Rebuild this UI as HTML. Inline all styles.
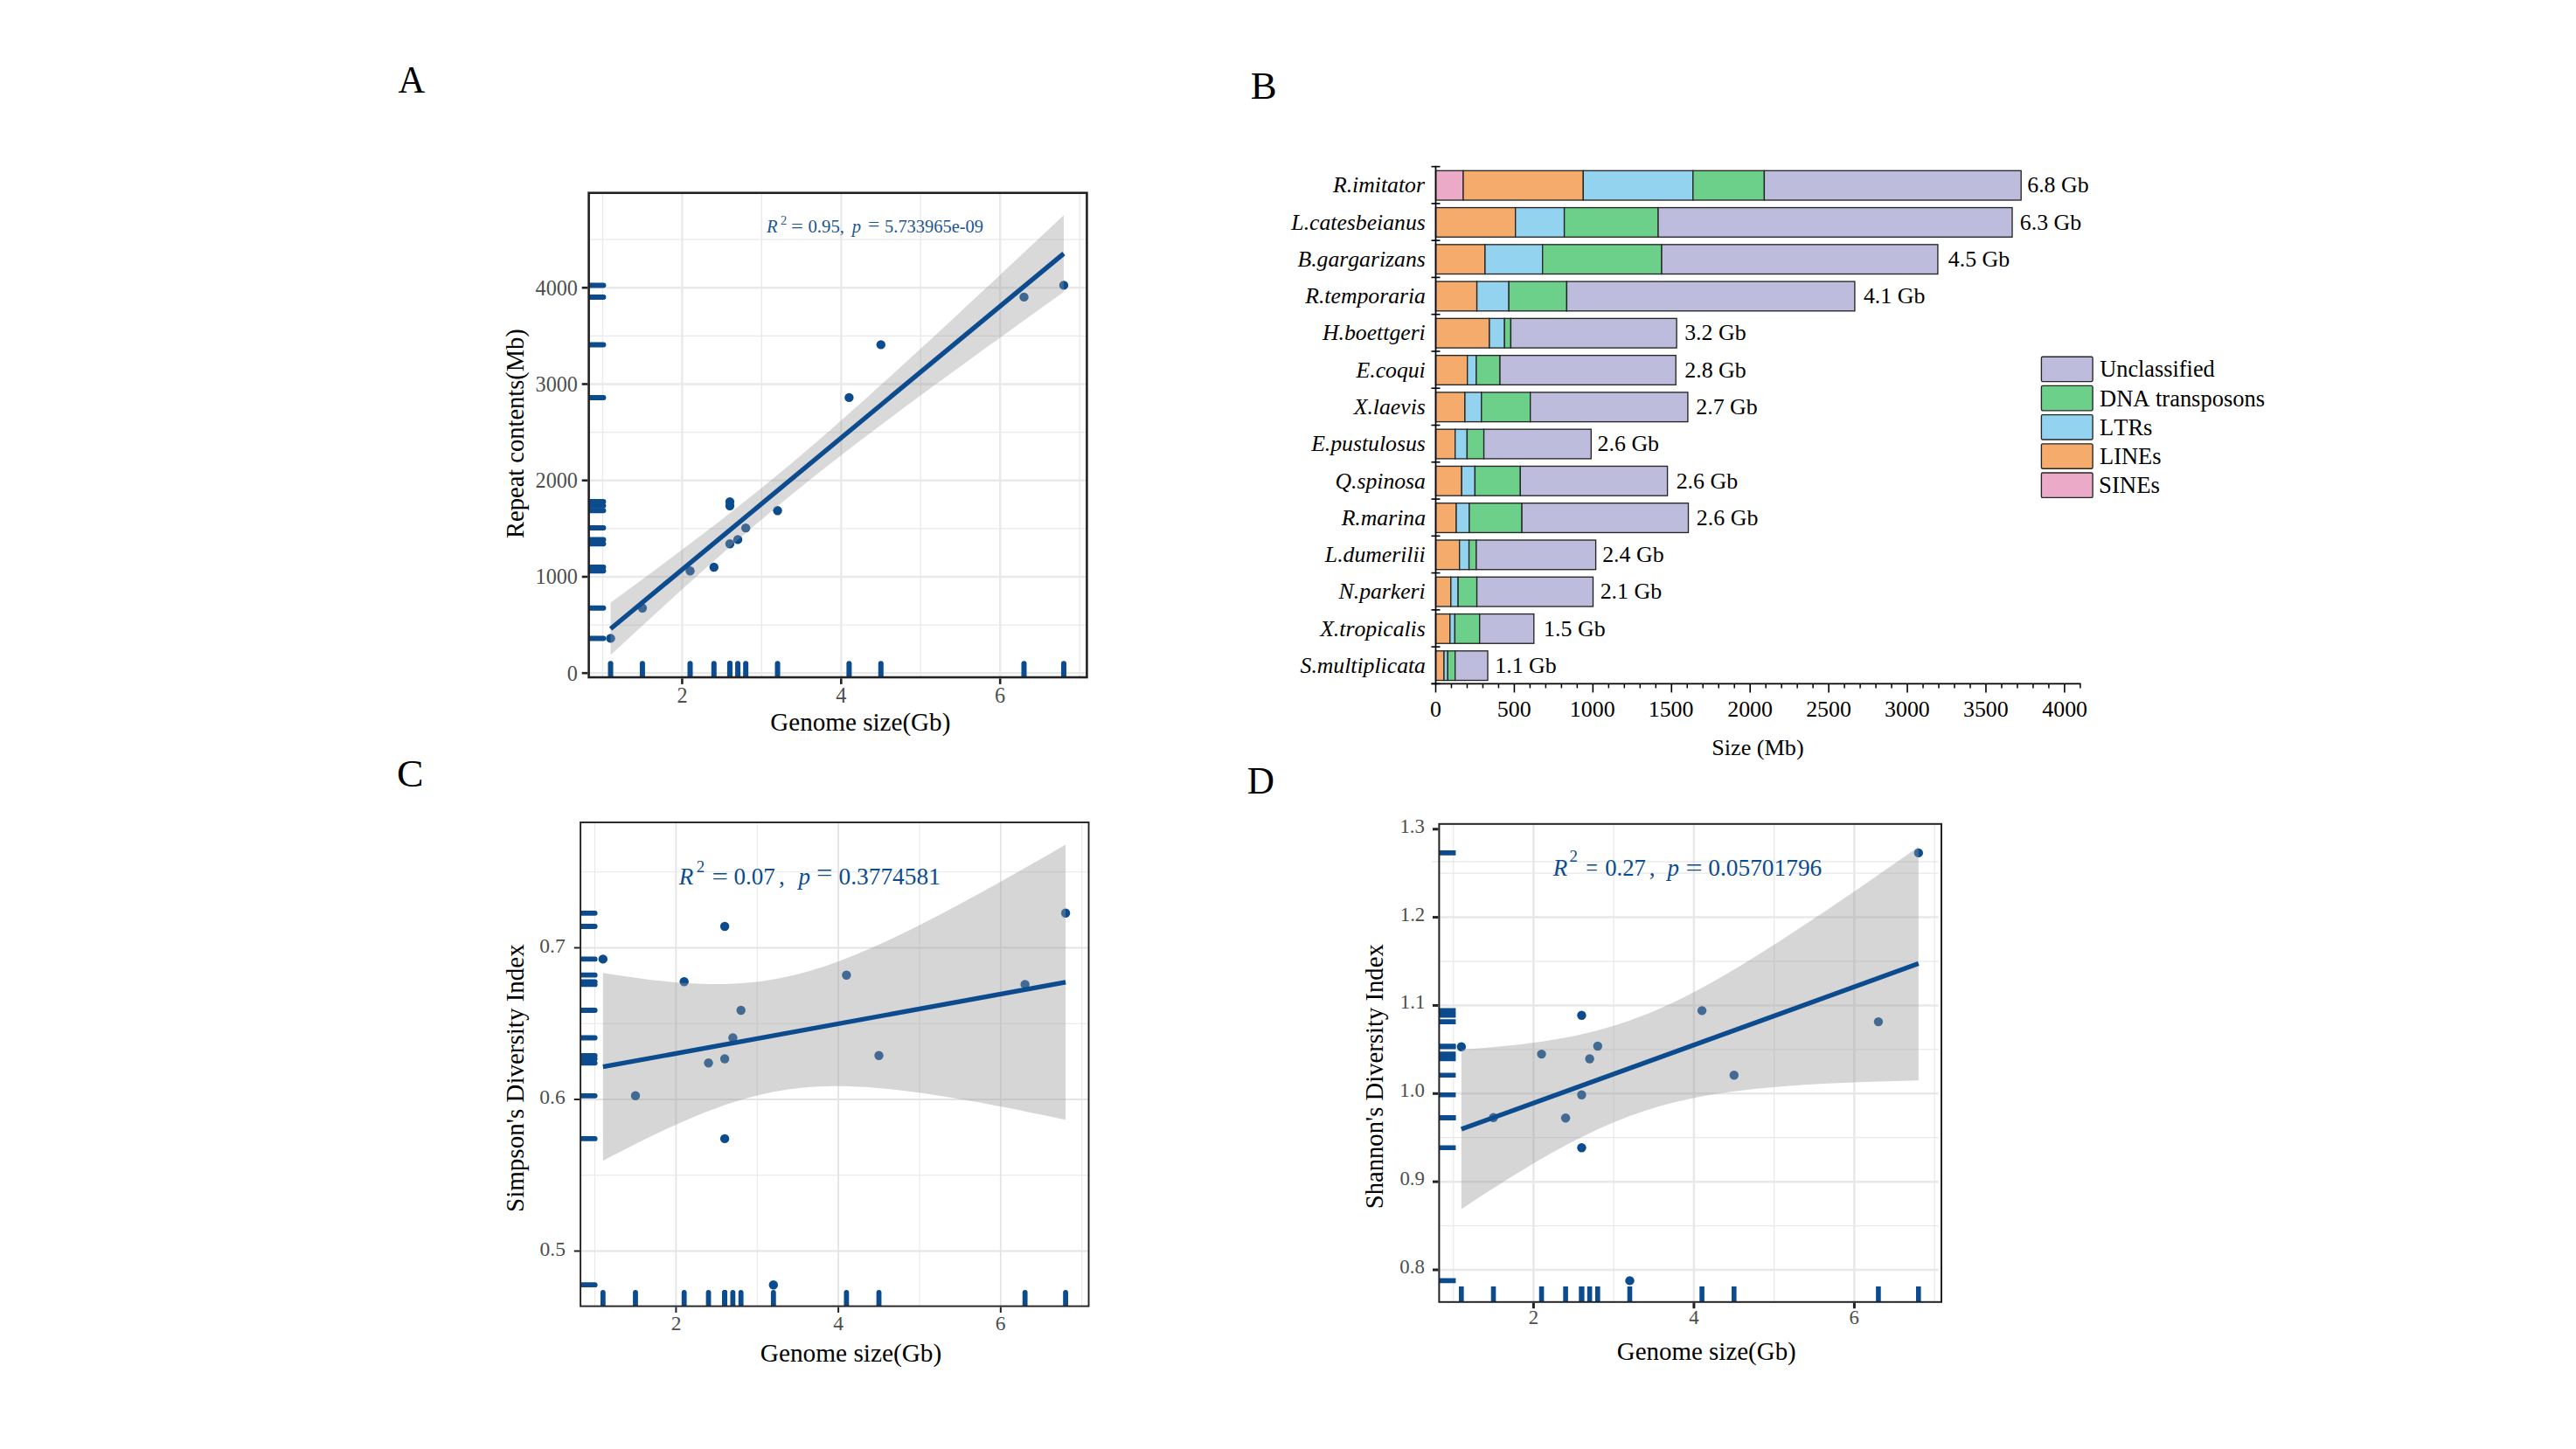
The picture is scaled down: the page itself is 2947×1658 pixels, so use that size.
<!DOCTYPE html>
<html lang="en">
<head>
<meta charset="utf-8">
<title>Figure</title>
<style>
html,body{margin:0;padding:0;background:#fff;}
body{width:2947px;height:1658px;overflow:hidden;font-family:"Liberation Serif","Times New Roman",serif;}
svg{display:block;}
text{white-space:pre;}
</style>
</head>
<body>
<svg width="2947" height="1658" viewBox="0 0 2947 1658" font-family="'Liberation Serif', 'Times New Roman', serif" style="font-kerning:none">
<g>
<clipPath id="pc1"><rect x="673.6" y="220.7" width="569.8" height="554.3"/></clipPath>
<line x1="673.6" y1="715.08" x2="1243.4" y2="715.08" stroke="#e9e9e9" stroke-width="1.3"/>
<line x1="673.6" y1="604.84" x2="1243.4" y2="604.84" stroke="#e9e9e9" stroke-width="1.3"/>
<line x1="673.6" y1="494.6" x2="1243.4" y2="494.6" stroke="#e9e9e9" stroke-width="1.3"/>
<line x1="673.6" y1="384.36" x2="1243.4" y2="384.36" stroke="#e9e9e9" stroke-width="1.3"/>
<line x1="673.6" y1="274.12" x2="1243.4" y2="274.12" stroke="#e9e9e9" stroke-width="1.3"/>
<line x1="689.45" y1="220.7" x2="689.45" y2="775" stroke="#e9e9e9" stroke-width="1.3"/>
<line x1="871.35" y1="220.7" x2="871.35" y2="775" stroke="#e9e9e9" stroke-width="1.3"/>
<line x1="1053.25" y1="220.7" x2="1053.25" y2="775" stroke="#e9e9e9" stroke-width="1.3"/>
<line x1="1235.15" y1="220.7" x2="1235.15" y2="775" stroke="#e9e9e9" stroke-width="1.3"/>
<line x1="673.6" y1="770.2" x2="1243.4" y2="770.2" stroke="#e9e9e9" stroke-width="2.4"/>
<line x1="673.6" y1="659.96" x2="1243.4" y2="659.96" stroke="#e9e9e9" stroke-width="2.4"/>
<line x1="673.6" y1="549.72" x2="1243.4" y2="549.72" stroke="#e9e9e9" stroke-width="2.4"/>
<line x1="673.6" y1="439.48" x2="1243.4" y2="439.48" stroke="#e9e9e9" stroke-width="2.4"/>
<line x1="673.6" y1="329.24" x2="1243.4" y2="329.24" stroke="#e9e9e9" stroke-width="2.4"/>
<line x1="780.4" y1="220.7" x2="780.4" y2="775" stroke="#e9e9e9" stroke-width="2.4"/>
<line x1="962.3" y1="220.7" x2="962.3" y2="775" stroke="#e9e9e9" stroke-width="2.4"/>
<line x1="1144.2" y1="220.7" x2="1144.2" y2="775" stroke="#e9e9e9" stroke-width="2.4"/>
<circle cx="698.54" cy="730.4" r="5.2" fill="#0b4b8e"/>
<circle cx="734.92" cy="695.7" r="5.2" fill="#0b4b8e"/>
<circle cx="789.5" cy="653.2" r="5.2" fill="#0b4b8e"/>
<circle cx="816.78" cy="649" r="5.2" fill="#0b4b8e"/>
<circle cx="834.97" cy="622.2" r="5.2" fill="#0b4b8e"/>
<circle cx="834.97" cy="578.7" r="5.2" fill="#0b4b8e"/>
<circle cx="834.97" cy="574.1" r="5.2" fill="#0b4b8e"/>
<circle cx="844.07" cy="617.4" r="5.2" fill="#0b4b8e"/>
<circle cx="853.16" cy="604.1" r="5.2" fill="#0b4b8e"/>
<circle cx="889.54" cy="584.3" r="5.2" fill="#0b4b8e"/>
<circle cx="971.39" cy="454.9" r="5.2" fill="#0b4b8e"/>
<circle cx="1007.77" cy="394.4" r="5.2" fill="#0b4b8e"/>
<circle cx="1171.48" cy="339.9" r="5.2" fill="#0b4b8e"/>
<circle cx="1216.96" cy="326.4" r="5.2" fill="#0b4b8e"/>
<path d="M698.54 689.51 L707.19 683.2 L715.83 676.88 L724.47 670.54 L733.11 664.18 L741.75 657.8 L750.39 651.41 L759.03 644.99 L767.67 638.54 L776.31 632.07 L784.95 625.56 L793.59 619.03 L802.23 612.45 L810.87 605.84 L819.51 599.19 L828.15 592.49 L836.79 585.74 L845.43 578.95 L854.07 572.09 L862.71 565.18 L871.35 558.21 L879.99 551.18 L888.63 544.09 L897.27 536.93 L905.91 529.71 L914.55 522.42 L923.19 515.08 L931.83 507.67 L940.47 500.21 L949.11 492.69 L957.75 485.12 L966.39 477.51 L975.03 469.85 L983.67 462.14 L992.31 454.4 L1000.95 446.62 L1009.59 438.81 L1018.23 430.97 L1026.87 423.1 L1035.51 415.21 L1044.15 407.29 L1052.8 399.35 L1061.44 391.4 L1070.08 383.42 L1078.72 375.43 L1087.36 367.42 L1096 359.4 L1104.64 351.37 L1113.28 343.33 L1121.92 335.27 L1130.56 327.21 L1139.2 319.14 L1147.84 311.06 L1156.48 302.97 L1165.12 294.87 L1173.76 286.77 L1182.4 278.66 L1191.04 270.54 L1199.68 262.42 L1208.32 254.3 L1216.96 246.17 L1216.96 334.03 L1208.32 340.21 L1199.68 346.4 L1191.04 352.6 L1182.4 358.79 L1173.76 365 L1165.12 371.21 L1156.48 377.43 L1147.84 383.65 L1139.2 389.88 L1130.56 396.12 L1121.92 402.37 L1113.28 408.63 L1104.64 414.9 L1096 421.18 L1087.36 427.48 L1078.72 433.78 L1070.08 440.11 L1061.44 446.44 L1052.8 452.8 L1044.15 459.18 L1035.51 465.57 L1026.87 471.99 L1018.23 478.44 L1009.59 484.91 L1000.95 491.41 L992.31 497.95 L983.67 504.52 L975.03 511.13 L966.39 517.78 L957.75 524.48 L949.11 531.22 L940.47 538.02 L931.83 544.87 L923.19 551.78 L914.55 558.74 L905.91 565.77 L897.27 572.87 L888.63 580.02 L879.99 587.24 L871.35 594.52 L862.71 601.86 L854.07 609.27 L845.43 616.73 L836.79 624.24 L828.15 631.81 L819.51 639.42 L810.87 647.08 L802.23 654.79 L793.59 662.53 L784.95 670.3 L776.31 678.11 L767.67 685.95 L759.03 693.82 L750.39 701.71 L741.75 709.63 L733.11 717.57 L724.47 725.52 L715.83 733.5 L707.19 741.49 L698.54 749.49Z" fill="#999" fill-opacity="0.37"/>
<line x1="698.54" y1="719.5" x2="1216.96" y2="290.1" stroke="#0b4b8e" stroke-width="5.3"/>
<g clip-path="url(#pc1)" stroke="#0b4b8e" stroke-width="6" stroke-linecap="round">
<line x1="698.54" y1="779" x2="698.54" y2="759.2"/>
<line x1="669.6" y1="730.4" x2="690.4" y2="730.4"/>
<line x1="734.92" y1="779" x2="734.92" y2="759.2"/>
<line x1="669.6" y1="695.7" x2="690.4" y2="695.7"/>
<line x1="789.5" y1="779" x2="789.5" y2="759.2"/>
<line x1="669.6" y1="653.2" x2="690.4" y2="653.2"/>
<line x1="816.78" y1="779" x2="816.78" y2="759.2"/>
<line x1="669.6" y1="649" x2="690.4" y2="649"/>
<line x1="834.97" y1="779" x2="834.97" y2="759.2"/>
<line x1="669.6" y1="622.2" x2="690.4" y2="622.2"/>
<line x1="834.97" y1="779" x2="834.97" y2="759.2"/>
<line x1="669.6" y1="578.7" x2="690.4" y2="578.7"/>
<line x1="834.97" y1="779" x2="834.97" y2="759.2"/>
<line x1="669.6" y1="574.1" x2="690.4" y2="574.1"/>
<line x1="844.07" y1="779" x2="844.07" y2="759.2"/>
<line x1="669.6" y1="617.4" x2="690.4" y2="617.4"/>
<line x1="853.16" y1="779" x2="853.16" y2="759.2"/>
<line x1="669.6" y1="604.1" x2="690.4" y2="604.1"/>
<line x1="889.54" y1="779" x2="889.54" y2="759.2"/>
<line x1="669.6" y1="584.3" x2="690.4" y2="584.3"/>
<line x1="971.39" y1="779" x2="971.39" y2="759.2"/>
<line x1="669.6" y1="454.9" x2="690.4" y2="454.9"/>
<line x1="1007.77" y1="779" x2="1007.77" y2="759.2"/>
<line x1="669.6" y1="394.4" x2="690.4" y2="394.4"/>
<line x1="1171.48" y1="779" x2="1171.48" y2="759.2"/>
<line x1="669.6" y1="339.9" x2="690.4" y2="339.9"/>
<line x1="1216.96" y1="779" x2="1216.96" y2="759.2"/>
<line x1="669.6" y1="326.4" x2="690.4" y2="326.4"/>
</g>
<rect x="673.6" y="220.7" width="569.8" height="554.3" fill="none" stroke="#222" stroke-width="2.6"/>
<line x1="665.7" y1="770.2" x2="672.3" y2="770.2" stroke="#222" stroke-width="2.6"/>
<text x="660.92" y="778.6" font-size="24.2" fill="#4d4d4d" text-anchor="end">0</text>
<line x1="665.7" y1="659.96" x2="672.3" y2="659.96" stroke="#222" stroke-width="2.6"/>
<text x="660.92" y="668.36" font-size="24.2" fill="#4d4d4d" text-anchor="end">1000</text>
<line x1="665.7" y1="549.72" x2="672.3" y2="549.72" stroke="#222" stroke-width="2.6"/>
<text x="660.92" y="558.12" font-size="24.2" fill="#4d4d4d" text-anchor="end">2000</text>
<line x1="665.7" y1="439.48" x2="672.3" y2="439.48" stroke="#222" stroke-width="2.6"/>
<text x="660.92" y="447.88" font-size="24.2" fill="#4d4d4d" text-anchor="end">3000</text>
<line x1="665.7" y1="329.24" x2="672.3" y2="329.24" stroke="#222" stroke-width="2.6"/>
<text x="660.92" y="337.64" font-size="24.2" fill="#4d4d4d" text-anchor="end">4000</text>
<line x1="780.4" y1="776.3" x2="780.4" y2="782.9" stroke="#222" stroke-width="2.6"/>
<text font-size="24.2" fill="#4d4d4d" x="774.49" y="804.2">2</text>
<line x1="962.3" y1="776.3" x2="962.3" y2="782.9" stroke="#222" stroke-width="2.6"/>
<text font-size="24.2" fill="#4d4d4d" x="956.2" y="804.2">4</text>
<line x1="1144.2" y1="776.3" x2="1144.2" y2="782.9" stroke="#222" stroke-width="2.6"/>
<text font-size="24.2" fill="#4d4d4d" x="1137.99" y="804.2">6</text>
<text font-size="28.6" fill="#000" textLength="206.07" lengthAdjust="spacingAndGlyphs" x="881.31" y="835.8">Genome size(Gb)</text>
<text font-size="28.6" fill="#000" textLength="239.77" lengthAdjust="spacingAndGlyphs" x="599" y="615.92" transform="rotate(-90 599 615.92)">Repeat contents(Mb)</text>
<text font-size="20.6" fill="#1d5690" font-style="italic" x="876.91" y="266.3">R</text>
<text font-size="14.42" fill="#1d5690" x="893.07" y="257.44">2</text>
<text font-size="20.6" fill="#1d5690" textLength="13.82" lengthAdjust="spacingAndGlyphs" x="904.98" y="266.3">=</text>
<text font-size="20.6" fill="#1d5690" textLength="36.4" lengthAdjust="spacingAndGlyphs" x="924.41" y="266.3">0.95</text>
<text font-size="20.6" fill="#1d5690" x="960.82" y="266.3">,</text>
<text font-size="20.6" fill="#1d5690" font-style="italic" x="974.81" y="266.3">p</text>
<text font-size="20.6" fill="#1d5690" textLength="13.21" lengthAdjust="spacingAndGlyphs" x="993.03" y="264.3">=</text>
<text font-size="20.6" fill="#1d5690" textLength="112.82" lengthAdjust="spacingAndGlyphs" x="1012.11" y="266.3">5.733965e-09</text>
</g>
<g>
<clipPath id="pc2"><rect x="664.1" y="941" width="581.4" height="553.6"/></clipPath>
<line x1="664.1" y1="1344.75" x2="1245.5" y2="1344.75" stroke="#e4e4e4" stroke-width="0.9"/>
<line x1="664.1" y1="1171.25" x2="1245.5" y2="1171.25" stroke="#e4e4e4" stroke-width="0.9"/>
<line x1="664.1" y1="997.75" x2="1245.5" y2="997.75" stroke="#e4e4e4" stroke-width="0.9"/>
<line x1="680.55" y1="941" x2="680.55" y2="1494.6" stroke="#e4e4e4" stroke-width="0.9"/>
<line x1="866.25" y1="941" x2="866.25" y2="1494.6" stroke="#e4e4e4" stroke-width="0.9"/>
<line x1="1051.95" y1="941" x2="1051.95" y2="1494.6" stroke="#e4e4e4" stroke-width="0.9"/>
<line x1="1237.65" y1="941" x2="1237.65" y2="1494.6" stroke="#e4e4e4" stroke-width="0.9"/>
<line x1="664.1" y1="1431.5" x2="1245.5" y2="1431.5" stroke="#e4e4e4" stroke-width="1.8"/>
<line x1="664.1" y1="1258" x2="1245.5" y2="1258" stroke="#e4e4e4" stroke-width="1.8"/>
<line x1="664.1" y1="1084.5" x2="1245.5" y2="1084.5" stroke="#e4e4e4" stroke-width="1.8"/>
<line x1="773.4" y1="941" x2="773.4" y2="1494.6" stroke="#e4e4e4" stroke-width="1.8"/>
<line x1="959.1" y1="941" x2="959.1" y2="1494.6" stroke="#e4e4e4" stroke-width="1.8"/>
<line x1="1144.8" y1="941" x2="1144.8" y2="1494.6" stroke="#e4e4e4" stroke-width="1.8"/>
<circle cx="689.84" cy="1097.4" r="5.2" fill="#0b4b8e"/>
<circle cx="726.98" cy="1253.8" r="5.2" fill="#0b4b8e"/>
<circle cx="782.68" cy="1123.3" r="5.2" fill="#0b4b8e"/>
<circle cx="810.54" cy="1216.3" r="5.2" fill="#0b4b8e"/>
<circle cx="829.11" cy="1060" r="5.2" fill="#0b4b8e"/>
<circle cx="829.11" cy="1211.5" r="5.2" fill="#0b4b8e"/>
<circle cx="829.11" cy="1302.9" r="5.2" fill="#0b4b8e"/>
<circle cx="838.39" cy="1187.5" r="5.2" fill="#0b4b8e"/>
<circle cx="847.68" cy="1156" r="5.2" fill="#0b4b8e"/>
<circle cx="884.82" cy="1470.2" r="5.2" fill="#0b4b8e"/>
<circle cx="968.38" cy="1115.7" r="5.2" fill="#0b4b8e"/>
<circle cx="1005.52" cy="1207.8" r="5.2" fill="#0b4b8e"/>
<circle cx="1172.65" cy="1126.4" r="5.2" fill="#0b4b8e"/>
<circle cx="1219.08" cy="1044.8" r="5.2" fill="#0b4b8e"/>
<path d="M689.84 1113.22 L698.66 1114.65 L707.48 1116.02 L716.3 1117.34 L725.12 1118.59 L733.94 1119.78 L742.76 1120.88 L751.58 1121.91 L760.4 1122.84 L769.22 1123.68 L778.04 1124.41 L786.86 1125.01 L795.68 1125.5 L804.5 1125.84 L813.33 1126.03 L822.15 1126.06 L830.97 1125.91 L839.79 1125.58 L848.61 1125.06 L857.43 1124.32 L866.25 1123.38 L875.07 1122.21 L883.89 1120.82 L892.71 1119.21 L901.53 1117.36 L910.35 1115.29 L919.17 1113 L928 1110.5 L936.82 1107.79 L945.64 1104.89 L954.46 1101.8 L963.28 1098.54 L972.1 1095.11 L980.92 1091.54 L989.74 1087.83 L998.56 1083.99 L1007.38 1080.03 L1016.2 1075.96 L1025.02 1071.8 L1033.84 1067.54 L1042.66 1063.21 L1051.49 1058.79 L1060.31 1054.31 L1069.13 1049.77 L1077.95 1045.16 L1086.77 1040.5 L1095.59 1035.8 L1104.41 1031.05 L1113.23 1026.26 L1122.05 1021.43 L1130.87 1016.56 L1139.69 1011.67 L1148.51 1006.74 L1157.33 1001.79 L1166.16 996.81 L1174.98 991.8 L1183.8 986.78 L1192.62 981.73 L1201.44 976.66 L1210.26 971.58 L1219.08 966.48 L1219.08 1281.32 L1210.26 1279.45 L1201.44 1277.59 L1192.62 1275.75 L1183.8 1273.93 L1174.98 1272.13 L1166.16 1270.35 L1157.33 1268.6 L1148.51 1266.87 L1139.69 1265.17 L1130.87 1263.5 L1122.05 1261.87 L1113.23 1260.26 L1104.41 1258.7 L1095.59 1257.17 L1086.77 1255.7 L1077.95 1254.26 L1069.13 1252.89 L1060.31 1251.57 L1051.49 1250.31 L1042.66 1249.13 L1033.84 1248.02 L1025.02 1246.99 L1016.2 1246.05 L1007.38 1245.21 L998.56 1244.48 L989.74 1243.87 L980.92 1243.38 L972.1 1243.03 L963.28 1242.84 L954.46 1242.8 L945.64 1242.94 L936.82 1243.26 L928 1243.78 L919.17 1244.51 L910.35 1245.44 L901.53 1246.6 L892.71 1247.98 L883.89 1249.59 L875.07 1251.43 L866.25 1253.49 L857.43 1255.77 L848.61 1258.26 L839.79 1260.97 L830.97 1263.86 L822.15 1266.94 L813.33 1270.2 L804.5 1273.62 L795.68 1277.18 L786.86 1280.89 L778.04 1284.73 L769.22 1288.68 L760.4 1292.74 L751.58 1296.9 L742.76 1301.16 L733.94 1305.49 L725.12 1309.9 L716.3 1314.38 L707.48 1318.92 L698.66 1323.52 L689.84 1328.18Z" fill="#999" fill-opacity="0.4"/>
<line x1="689.84" y1="1220.7" x2="1219.08" y2="1123.9" stroke="#0b4b8e" stroke-width="5.3"/>
<g clip-path="url(#pc2)" stroke="#0b4b8e" stroke-width="5.8" stroke-linecap="round">
<line x1="689.84" y1="1498.6" x2="689.84" y2="1478.8"/>
<line x1="660.1" y1="1097.4" x2="680.7" y2="1097.4"/>
<line x1="726.98" y1="1498.6" x2="726.98" y2="1478.8"/>
<line x1="660.1" y1="1253.8" x2="680.7" y2="1253.8"/>
<line x1="782.68" y1="1498.6" x2="782.68" y2="1478.8"/>
<line x1="660.1" y1="1123.3" x2="680.7" y2="1123.3"/>
<line x1="810.54" y1="1498.6" x2="810.54" y2="1478.8"/>
<line x1="660.1" y1="1216.3" x2="680.7" y2="1216.3"/>
<line x1="829.11" y1="1498.6" x2="829.11" y2="1478.8"/>
<line x1="660.1" y1="1060" x2="680.7" y2="1060"/>
<line x1="829.11" y1="1498.6" x2="829.11" y2="1478.8"/>
<line x1="660.1" y1="1211.5" x2="680.7" y2="1211.5"/>
<line x1="829.11" y1="1498.6" x2="829.11" y2="1478.8"/>
<line x1="660.1" y1="1302.9" x2="680.7" y2="1302.9"/>
<line x1="838.39" y1="1498.6" x2="838.39" y2="1478.8"/>
<line x1="660.1" y1="1187.5" x2="680.7" y2="1187.5"/>
<line x1="847.68" y1="1498.6" x2="847.68" y2="1478.8"/>
<line x1="660.1" y1="1156" x2="680.7" y2="1156"/>
<line x1="884.82" y1="1498.6" x2="884.82" y2="1478.8"/>
<line x1="660.1" y1="1470.2" x2="680.7" y2="1470.2"/>
<line x1="968.38" y1="1498.6" x2="968.38" y2="1478.8"/>
<line x1="660.1" y1="1115.7" x2="680.7" y2="1115.7"/>
<line x1="1005.52" y1="1498.6" x2="1005.52" y2="1478.8"/>
<line x1="660.1" y1="1207.8" x2="680.7" y2="1207.8"/>
<line x1="1172.65" y1="1498.6" x2="1172.65" y2="1478.8"/>
<line x1="660.1" y1="1126.4" x2="680.7" y2="1126.4"/>
<line x1="1219.08" y1="1498.6" x2="1219.08" y2="1478.8"/>
<line x1="660.1" y1="1044.8" x2="680.7" y2="1044.8"/>
</g>
<rect x="664.1" y="941" width="581.4" height="553.6" fill="none" stroke="#222" stroke-width="1.9"/>
<line x1="656.75" y1="1431.5" x2="663.15" y2="1431.5" stroke="#222" stroke-width="2"/>
<text x="646.92" y="1436.5" font-size="23.5" fill="#4d4d4d" text-anchor="end">0.5</text>
<line x1="656.75" y1="1258" x2="663.15" y2="1258" stroke="#222" stroke-width="2"/>
<text x="646.7" y="1263" font-size="23.5" fill="#4d4d4d" text-anchor="end">0.6</text>
<line x1="656.75" y1="1084.5" x2="663.15" y2="1084.5" stroke="#222" stroke-width="2"/>
<text x="646.68" y="1089.5" font-size="23.5" fill="#4d4d4d" text-anchor="end">0.7</text>
<line x1="773.4" y1="1495.55" x2="773.4" y2="1501.95" stroke="#222" stroke-width="2"/>
<text font-size="23.5" fill="#4d4d4d" x="767.66" y="1521.5">2</text>
<line x1="959.1" y1="1495.55" x2="959.1" y2="1501.95" stroke="#222" stroke-width="2"/>
<text font-size="23.5" fill="#4d4d4d" x="953.18" y="1521.5">4</text>
<line x1="1144.8" y1="1495.55" x2="1144.8" y2="1501.95" stroke="#222" stroke-width="2"/>
<text font-size="23.5" fill="#4d4d4d" x="1138.77" y="1521.5">6</text>
<text font-size="29" fill="#000" textLength="207.49" lengthAdjust="spacingAndGlyphs" x="869.8" y="1558">Genome size(Gb)</text>
<text font-size="29" fill="#000" textLength="306.7" lengthAdjust="spacingAndGlyphs" x="599.5" y="1386.94" transform="rotate(-90 599.5 1386.94)">Simpson's Diversity Index</text>
<text font-size="27" fill="#0b4b8e" font-style="italic" x="776.65" y="1011.6">R</text>
<text font-size="18.9" fill="#0b4b8e" x="796.77" y="998.37">2</text>
<text font-size="27" fill="#0b4b8e" textLength="18.42" lengthAdjust="spacingAndGlyphs" x="814.47" y="1011.6">=</text>
<text font-size="27" fill="#0b4b8e" textLength="47.31" lengthAdjust="spacingAndGlyphs" x="839.47" y="1011.6">0.07</text>
<text font-size="27" fill="#0b4b8e" x="890.97" y="1011.6">,</text>
<text font-size="27" fill="#0b4b8e" font-style="italic" x="913.38" y="1011.6">p</text>
<text font-size="27" fill="#0b4b8e" textLength="18.3" lengthAdjust="spacingAndGlyphs" x="933.98" y="1008.4">=</text>
<text font-size="27" fill="#0b4b8e" textLength="116.29" lengthAdjust="spacingAndGlyphs" x="959.56" y="1011.6">0.3774581</text>
</g>
<g>
<clipPath id="pc3"><rect x="1646.4" y="942.8" width="574.6" height="547"/></clipPath>
<line x1="1646.4" y1="1402.58" x2="2217.5" y2="1402.58" stroke="#e8e8e8" stroke-width="1.2"/>
<line x1="1646.4" y1="1301.72" x2="2217.5" y2="1301.72" stroke="#e8e8e8" stroke-width="1.2"/>
<line x1="1646.4" y1="1200.88" x2="2217.5" y2="1200.88" stroke="#e8e8e8" stroke-width="1.2"/>
<line x1="1646.4" y1="1100.03" x2="2217.5" y2="1100.03" stroke="#e8e8e8" stroke-width="1.2"/>
<line x1="1646.4" y1="999.17" x2="2217.5" y2="999.17" stroke="#e8e8e8" stroke-width="1.2"/>
<line x1="1662.65" y1="942.8" x2="1662.65" y2="1489.8" stroke="#e8e8e8" stroke-width="1.2"/>
<line x1="1846.15" y1="942.8" x2="1846.15" y2="1489.8" stroke="#e8e8e8" stroke-width="1.2"/>
<line x1="2029.65" y1="942.8" x2="2029.65" y2="1489.8" stroke="#e8e8e8" stroke-width="1.2"/>
<line x1="2213.15" y1="942.8" x2="2213.15" y2="1489.8" stroke="#e8e8e8" stroke-width="1.2"/>
<line x1="1646.4" y1="1453" x2="2217.5" y2="1453" stroke="#e8e8e8" stroke-width="2.5"/>
<line x1="1646.4" y1="1352.15" x2="2217.5" y2="1352.15" stroke="#e8e8e8" stroke-width="2.5"/>
<line x1="1646.4" y1="1251.3" x2="2217.5" y2="1251.3" stroke="#e8e8e8" stroke-width="2.5"/>
<line x1="1646.4" y1="1150.45" x2="2217.5" y2="1150.45" stroke="#e8e8e8" stroke-width="2.5"/>
<line x1="1646.4" y1="1049.6" x2="2217.5" y2="1049.6" stroke="#e8e8e8" stroke-width="2.5"/>
<line x1="1754.4" y1="942.8" x2="1754.4" y2="1489.8" stroke="#e8e8e8" stroke-width="2.5"/>
<line x1="1937.9" y1="942.8" x2="1937.9" y2="1489.8" stroke="#e8e8e8" stroke-width="2.5"/>
<line x1="2121.4" y1="942.8" x2="2121.4" y2="1489.8" stroke="#e8e8e8" stroke-width="2.5"/>
<line x1="1638.4" y1="986" x2="2217.5" y2="986" stroke="#e2e2e2" stroke-width="1.2"/>
<circle cx="1671.83" cy="1197.8" r="5.2" fill="#0b4b8e"/>
<circle cx="1708.53" cy="1278.7" r="5.2" fill="#0b4b8e"/>
<circle cx="1763.58" cy="1206.1" r="5.2" fill="#0b4b8e"/>
<circle cx="1791.1" cy="1279.3" r="5.2" fill="#0b4b8e"/>
<circle cx="1809.45" cy="1161.8" r="5.2" fill="#0b4b8e"/>
<circle cx="1809.45" cy="1252.8" r="5.2" fill="#0b4b8e"/>
<circle cx="1809.45" cy="1313.3" r="5.2" fill="#0b4b8e"/>
<circle cx="1818.62" cy="1211.5" r="5.2" fill="#0b4b8e"/>
<circle cx="1827.8" cy="1197" r="5.2" fill="#0b4b8e"/>
<circle cx="1864.5" cy="1465.4" r="5.2" fill="#0b4b8e"/>
<circle cx="1947.08" cy="1156.4" r="5.2" fill="#0b4b8e"/>
<circle cx="1983.78" cy="1230.3" r="5.2" fill="#0b4b8e"/>
<circle cx="2148.93" cy="1169.1" r="5.2" fill="#0b4b8e"/>
<circle cx="2194.8" cy="975.9" r="5.2" fill="#0b4b8e"/>
<path d="M1671.83 1200.82 L1680.54 1200.25 L1689.26 1199.63 L1697.97 1198.96 L1706.69 1198.23 L1715.41 1197.45 L1724.12 1196.6 L1732.84 1195.68 L1741.56 1194.69 L1750.27 1193.61 L1758.99 1192.44 L1767.7 1191.17 L1776.42 1189.79 L1785.14 1188.29 L1793.85 1186.66 L1802.57 1184.9 L1811.29 1182.99 L1820 1180.92 L1828.72 1178.69 L1837.43 1176.28 L1846.15 1173.69 L1854.87 1170.91 L1863.58 1167.94 L1872.3 1164.78 L1881.02 1161.42 L1889.73 1157.88 L1898.45 1154.14 L1907.16 1150.23 L1915.88 1146.14 L1924.6 1141.89 L1933.31 1137.48 L1942.03 1132.92 L1950.75 1128.22 L1959.46 1123.4 L1968.18 1118.46 L1976.89 1113.41 L1985.61 1108.26 L1994.33 1103.02 L2003.04 1097.69 L2011.76 1092.29 L2020.48 1086.82 L2029.19 1081.28 L2037.91 1075.69 L2046.62 1070.04 L2055.34 1064.34 L2064.06 1058.6 L2072.77 1052.82 L2081.49 1046.99 L2090.2 1041.14 L2098.92 1035.25 L2107.64 1029.33 L2116.35 1023.38 L2125.07 1017.41 L2133.79 1011.41 L2142.5 1005.39 L2151.22 999.36 L2159.93 993.3 L2168.65 987.23 L2177.37 981.14 L2186.08 975.03 L2194.8 968.91 L2194.8 1236.29 L2186.08 1236.49 L2177.37 1236.7 L2168.65 1236.92 L2159.93 1237.17 L2151.22 1237.43 L2142.5 1237.71 L2133.79 1238.01 L2125.07 1238.33 L2116.35 1238.67 L2107.64 1239.04 L2098.92 1239.44 L2090.2 1239.86 L2081.49 1240.32 L2072.77 1240.82 L2064.06 1241.35 L2055.34 1241.92 L2046.62 1242.54 L2037.91 1243.21 L2029.19 1243.93 L2020.48 1244.71 L2011.76 1245.56 L2003.04 1246.47 L1994.33 1247.47 L1985.61 1248.54 L1976.89 1249.71 L1968.18 1250.98 L1959.46 1252.35 L1950.75 1253.84 L1942.03 1255.47 L1933.31 1257.22 L1924.6 1259.13 L1915.88 1261.19 L1907.16 1263.42 L1898.45 1265.82 L1889.73 1268.41 L1881.02 1271.18 L1872.3 1274.14 L1863.58 1277.29 L1854.87 1280.64 L1846.15 1284.18 L1837.43 1287.91 L1828.72 1291.81 L1820 1295.9 L1811.29 1300.14 L1802.57 1304.55 L1793.85 1309.1 L1785.14 1313.79 L1776.42 1318.61 L1767.7 1323.55 L1758.99 1328.59 L1750.27 1333.74 L1741.56 1338.98 L1732.84 1344.3 L1724.12 1349.7 L1715.41 1355.17 L1706.69 1360.7 L1697.97 1366.29 L1689.26 1371.94 L1680.54 1377.64 L1671.83 1383.38Z" fill="#999" fill-opacity="0.4"/>
<line x1="1671.83" y1="1292.1" x2="2194.8" y2="1102.6" stroke="#0b4b8e" stroke-width="5.3"/>
<g clip-path="url(#pc3)" stroke="#0b4b8e" stroke-width="5.6" stroke-linecap="butt">
<line x1="1671.83" y1="1493.8" x2="1671.83" y2="1472"/>
<line x1="1642.4" y1="1197.8" x2="1665.4" y2="1197.8"/>
<line x1="1708.53" y1="1493.8" x2="1708.53" y2="1472"/>
<line x1="1642.4" y1="1278.7" x2="1665.4" y2="1278.7"/>
<line x1="1763.58" y1="1493.8" x2="1763.58" y2="1472"/>
<line x1="1642.4" y1="1206.1" x2="1665.4" y2="1206.1"/>
<line x1="1791.1" y1="1493.8" x2="1791.1" y2="1472"/>
<line x1="1642.4" y1="1279.3" x2="1665.4" y2="1279.3"/>
<line x1="1809.45" y1="1493.8" x2="1809.45" y2="1472"/>
<line x1="1642.4" y1="1161.8" x2="1665.4" y2="1161.8"/>
<line x1="1809.45" y1="1493.8" x2="1809.45" y2="1472"/>
<line x1="1642.4" y1="1252.8" x2="1665.4" y2="1252.8"/>
<line x1="1809.45" y1="1493.8" x2="1809.45" y2="1472"/>
<line x1="1642.4" y1="1313.3" x2="1665.4" y2="1313.3"/>
<line x1="1818.62" y1="1493.8" x2="1818.62" y2="1472"/>
<line x1="1642.4" y1="1211.5" x2="1665.4" y2="1211.5"/>
<line x1="1827.8" y1="1493.8" x2="1827.8" y2="1472"/>
<line x1="1642.4" y1="1197" x2="1665.4" y2="1197"/>
<line x1="1864.5" y1="1493.8" x2="1864.5" y2="1472"/>
<line x1="1642.4" y1="1465.4" x2="1665.4" y2="1465.4"/>
<line x1="1947.08" y1="1493.8" x2="1947.08" y2="1472"/>
<line x1="1642.4" y1="1156.4" x2="1665.4" y2="1156.4"/>
<line x1="1983.78" y1="1493.8" x2="1983.78" y2="1472"/>
<line x1="1642.4" y1="1230.3" x2="1665.4" y2="1230.3"/>
<line x1="2148.93" y1="1493.8" x2="2148.93" y2="1472"/>
<line x1="1642.4" y1="1169.1" x2="1665.4" y2="1169.1"/>
<line x1="2194.8" y1="1493.8" x2="2194.8" y2="1472"/>
<line x1="1642.4" y1="975.9" x2="1665.4" y2="975.9"/>
</g>
<rect x="1646.4" y="942.8" width="574.6" height="547" fill="none" stroke="#222" stroke-width="2"/>
<line x1="1639" y1="1453" x2="1645.4" y2="1453" stroke="#222" stroke-width="3"/>
<text x="1629.87" y="1457" font-size="22.8" fill="#4d4d4d" text-anchor="end">0.8</text>
<line x1="1639" y1="1352.15" x2="1645.4" y2="1352.15" stroke="#222" stroke-width="3"/>
<text x="1629.94" y="1356.15" font-size="22.8" fill="#4d4d4d" text-anchor="end">0.9</text>
<line x1="1639" y1="1251.3" x2="1645.4" y2="1251.3" stroke="#222" stroke-width="3"/>
<text x="1629.87" y="1255.3" font-size="22.8" fill="#4d4d4d" text-anchor="end">1.0</text>
<line x1="1639" y1="1150.45" x2="1645.4" y2="1150.45" stroke="#222" stroke-width="3"/>
<text x="1630.37" y="1154.45" font-size="22.8" fill="#4d4d4d" text-anchor="end">1.1</text>
<line x1="1639" y1="1049.6" x2="1645.4" y2="1049.6" stroke="#222" stroke-width="3"/>
<text x="1630.26" y="1053.6" font-size="22.8" fill="#4d4d4d" text-anchor="end">1.2</text>
<line x1="1639" y1="948.75" x2="1645.4" y2="948.75" stroke="#222" stroke-width="3"/>
<text x="1629.89" y="952.75" font-size="22.8" fill="#4d4d4d" text-anchor="end">1.3</text>
<line x1="1754.4" y1="1490.8" x2="1754.4" y2="1497.2" stroke="#222" stroke-width="3"/>
<text font-size="22.8" fill="#4d4d4d" x="1748.83" y="1515.3">2</text>
<line x1="1937.9" y1="1490.8" x2="1937.9" y2="1497.2" stroke="#222" stroke-width="3"/>
<text font-size="22.8" fill="#4d4d4d" x="1932.16" y="1515.3">4</text>
<line x1="2121.4" y1="1490.8" x2="2121.4" y2="1497.2" stroke="#222" stroke-width="3"/>
<text font-size="22.8" fill="#4d4d4d" x="2115.55" y="1515.3">6</text>
<text font-size="28.7" fill="#000" textLength="204.96" lengthAdjust="spacingAndGlyphs" x="1849.81" y="1555.5">Genome size(Gb)</text>
<text font-size="28.7" fill="#000" textLength="303.07" lengthAdjust="spacingAndGlyphs" x="1582.5" y="1383.32" transform="rotate(-90 1582.5 1383.32)">Shannon's Diversity Index</text>
<text font-size="27" fill="#0b4b8e" font-style="italic" x="1776.65" y="1001.6">R</text>
<text font-size="18.9" fill="#0b4b8e" x="1795.47" y="986.48">2</text>
<text font-size="27" fill="#0b4b8e" textLength="13.7" lengthAdjust="spacingAndGlyphs" x="1814.19" y="1001.6">=</text>
<text font-size="27" fill="#0b4b8e" textLength="46.68" lengthAdjust="spacingAndGlyphs" x="1836.18" y="1001.6">0.27</text>
<text font-size="27" fill="#0b4b8e" x="1886.87" y="1001.6">,</text>
<text font-size="27" fill="#0b4b8e" font-style="italic" x="1907.48" y="1001.6">p</text>
<text font-size="27" fill="#0b4b8e" textLength="19.15" lengthAdjust="spacingAndGlyphs" x="1928.61" y="1001.6">=</text>
<text font-size="27" fill="#0b4b8e" textLength="129.86" lengthAdjust="spacingAndGlyphs" x="1954.36" y="1001.6">0.05701796</text>
</g>
<g>
<rect x="1642.5" y="195.3" width="31.5" height="33.7" fill="#ecaac9" stroke="#262626" stroke-width="1.35"/>
<rect x="1674" y="195.3" width="137.3" height="33.7" fill="#f5ab6c" stroke="#262626" stroke-width="1.35"/>
<rect x="1811.3" y="195.3" width="125.5" height="33.7" fill="#93d3f0" stroke="#262626" stroke-width="1.35"/>
<rect x="1936.8" y="195.3" width="81.6" height="33.7" fill="#6cd08a" stroke="#262626" stroke-width="1.35"/>
<rect x="2018.4" y="195.3" width="293.8" height="33.7" fill="#bdbcdd" stroke="#262626" stroke-width="1.35"/>
<text x="1629.92" y="220.35" font-size="25.7" fill="#000" text-anchor="end" font-style="italic">R.imitator</text>
<text font-size="25.9" fill="#000" x="2319.19" y="220.35">6.8 Gb</text>
<rect x="1642.5" y="237.57" width="91.2" height="33.7" fill="#f5ab6c" stroke="#262626" stroke-width="1.35"/>
<rect x="1733.7" y="237.57" width="55.9" height="33.7" fill="#93d3f0" stroke="#262626" stroke-width="1.35"/>
<rect x="1789.6" y="237.57" width="107.4" height="33.7" fill="#6cd08a" stroke="#262626" stroke-width="1.35"/>
<rect x="1897" y="237.57" width="405" height="33.7" fill="#bdbcdd" stroke="#262626" stroke-width="1.35"/>
<text x="1630.78" y="262.62" font-size="25.7" fill="#000" text-anchor="end" font-style="italic">L.catesbeianus</text>
<text font-size="25.9" fill="#000" x="2310.79" y="262.62">6.3 Gb</text>
<rect x="1642.5" y="279.84" width="56.4" height="33.7" fill="#f5ab6c" stroke="#262626" stroke-width="1.35"/>
<rect x="1698.9" y="279.84" width="65.8" height="33.7" fill="#93d3f0" stroke="#262626" stroke-width="1.35"/>
<rect x="1764.7" y="279.84" width="136.3" height="33.7" fill="#6cd08a" stroke="#262626" stroke-width="1.35"/>
<rect x="1901" y="279.84" width="315.9" height="33.7" fill="#bdbcdd" stroke="#262626" stroke-width="1.35"/>
<text x="1630.78" y="304.89" font-size="25.7" fill="#000" text-anchor="end" font-style="italic">B.gargarizans</text>
<text font-size="25.9" fill="#000" x="2228.79" y="304.89">4.5 Gb</text>
<rect x="1642.5" y="322.11" width="47.1" height="33.7" fill="#f5ab6c" stroke="#262626" stroke-width="1.35"/>
<rect x="1689.6" y="322.11" width="36.6" height="33.7" fill="#93d3f0" stroke="#262626" stroke-width="1.35"/>
<rect x="1726.2" y="322.11" width="66.2" height="33.7" fill="#6cd08a" stroke="#262626" stroke-width="1.35"/>
<rect x="1792.4" y="322.11" width="329.5" height="33.7" fill="#bdbcdd" stroke="#262626" stroke-width="1.35"/>
<text x="1630.97" y="347.16" font-size="25.7" fill="#000" text-anchor="end" font-style="italic">R.temporaria</text>
<text font-size="25.9" fill="#000" x="2131.89" y="347.16">4.1 Gb</text>
<rect x="1642.5" y="364.38" width="61.4" height="33.7" fill="#f5ab6c" stroke="#262626" stroke-width="1.35"/>
<rect x="1703.9" y="364.38" width="17.3" height="33.7" fill="#93d3f0" stroke="#262626" stroke-width="1.35"/>
<rect x="1721.2" y="364.38" width="7.2" height="33.7" fill="#6cd08a" stroke="#262626" stroke-width="1.35"/>
<rect x="1728.4" y="364.38" width="189.7" height="33.7" fill="#bdbcdd" stroke="#262626" stroke-width="1.35"/>
<text x="1630.78" y="389.43" font-size="25.7" fill="#000" text-anchor="end" font-style="italic">H.boettgeri</text>
<text font-size="25.9" fill="#000" x="1927.16" y="389.43">3.2 Gb</text>
<rect x="1642.5" y="406.65" width="36.2" height="33.7" fill="#f5ab6c" stroke="#262626" stroke-width="1.35"/>
<rect x="1678.7" y="406.65" width="10.2" height="33.7" fill="#93d3f0" stroke="#262626" stroke-width="1.35"/>
<rect x="1688.9" y="406.65" width="27.1" height="33.7" fill="#6cd08a" stroke="#262626" stroke-width="1.35"/>
<rect x="1716" y="406.65" width="201.2" height="33.7" fill="#bdbcdd" stroke="#262626" stroke-width="1.35"/>
<text x="1630.78" y="431.7" font-size="25.7" fill="#000" text-anchor="end" font-style="italic">E.coqui</text>
<text font-size="25.9" fill="#000" x="1927.26" y="431.7">2.8 Gb</text>
<rect x="1642.5" y="448.92" width="33.4" height="33.7" fill="#f5ab6c" stroke="#262626" stroke-width="1.35"/>
<rect x="1675.9" y="448.92" width="18.9" height="33.7" fill="#93d3f0" stroke="#262626" stroke-width="1.35"/>
<rect x="1694.8" y="448.92" width="55.9" height="33.7" fill="#6cd08a" stroke="#262626" stroke-width="1.35"/>
<rect x="1750.7" y="448.92" width="180.2" height="33.7" fill="#bdbcdd" stroke="#262626" stroke-width="1.35"/>
<text x="1630.78" y="473.97" font-size="25.7" fill="#000" text-anchor="end" font-style="italic">X.laevis</text>
<text font-size="25.9" fill="#000" x="1940.26" y="473.97">2.7 Gb</text>
<rect x="1642.5" y="491.19" width="22.2" height="33.7" fill="#f5ab6c" stroke="#262626" stroke-width="1.35"/>
<rect x="1664.7" y="491.19" width="13.7" height="33.7" fill="#93d3f0" stroke="#262626" stroke-width="1.35"/>
<rect x="1678.4" y="491.19" width="19.2" height="33.7" fill="#6cd08a" stroke="#262626" stroke-width="1.35"/>
<rect x="1697.6" y="491.19" width="122.7" height="33.7" fill="#bdbcdd" stroke="#262626" stroke-width="1.35"/>
<text x="1630.78" y="516.25" font-size="25.7" fill="#000" text-anchor="end" font-style="italic">E.pustulosus</text>
<text font-size="25.9" fill="#000" x="1827.56" y="516.25">2.6 Gb</text>
<rect x="1642.5" y="533.46" width="29.7" height="33.7" fill="#f5ab6c" stroke="#262626" stroke-width="1.35"/>
<rect x="1672.2" y="533.46" width="15.2" height="33.7" fill="#93d3f0" stroke="#262626" stroke-width="1.35"/>
<rect x="1687.4" y="533.46" width="51.9" height="33.7" fill="#6cd08a" stroke="#262626" stroke-width="1.35"/>
<rect x="1739.3" y="533.46" width="168.3" height="33.7" fill="#bdbcdd" stroke="#262626" stroke-width="1.35"/>
<text x="1630.97" y="558.51" font-size="25.7" fill="#000" text-anchor="end" font-style="italic">Q.spinosa</text>
<text font-size="25.9" fill="#000" x="1917.66" y="558.51">2.6 Gb</text>
<rect x="1642.5" y="575.73" width="23.5" height="33.7" fill="#f5ab6c" stroke="#262626" stroke-width="1.35"/>
<rect x="1666" y="575.73" width="14.9" height="33.7" fill="#93d3f0" stroke="#262626" stroke-width="1.35"/>
<rect x="1680.9" y="575.73" width="60.2" height="33.7" fill="#6cd08a" stroke="#262626" stroke-width="1.35"/>
<rect x="1741.1" y="575.73" width="190.4" height="33.7" fill="#bdbcdd" stroke="#262626" stroke-width="1.35"/>
<text x="1630.97" y="600.78" font-size="25.7" fill="#000" text-anchor="end" font-style="italic">R.marina</text>
<text font-size="25.9" fill="#000" x="1940.86" y="600.78">2.6 Gb</text>
<rect x="1642.5" y="618" width="27.2" height="33.7" fill="#f5ab6c" stroke="#262626" stroke-width="1.35"/>
<rect x="1669.7" y="618" width="10.9" height="33.7" fill="#93d3f0" stroke="#262626" stroke-width="1.35"/>
<rect x="1680.6" y="618" width="8.3" height="33.7" fill="#6cd08a" stroke="#262626" stroke-width="1.35"/>
<rect x="1688.9" y="618" width="136.7" height="33.7" fill="#bdbcdd" stroke="#262626" stroke-width="1.35"/>
<text x="1630.78" y="643.05" font-size="25.7" fill="#000" text-anchor="end" font-style="italic">L.dumerilii</text>
<text font-size="25.9" fill="#000" x="1833.16" y="643.05">2.4 Gb</text>
<rect x="1642.5" y="660.27" width="17.3" height="33.7" fill="#f5ab6c" stroke="#262626" stroke-width="1.35"/>
<rect x="1659.8" y="660.27" width="8.3" height="33.7" fill="#93d3f0" stroke="#262626" stroke-width="1.35"/>
<rect x="1668.1" y="660.27" width="21.5" height="33.7" fill="#6cd08a" stroke="#262626" stroke-width="1.35"/>
<rect x="1689.6" y="660.27" width="132.9" height="33.7" fill="#bdbcdd" stroke="#262626" stroke-width="1.35"/>
<text x="1630.78" y="685.32" font-size="25.7" fill="#000" text-anchor="end" font-style="italic">N.parkeri</text>
<text font-size="25.9" fill="#000" x="1830.66" y="685.32">2.1 Gb</text>
<rect x="1642.5" y="702.54" width="16.3" height="33.7" fill="#f5ab6c" stroke="#262626" stroke-width="1.35"/>
<rect x="1658.8" y="702.54" width="5.6" height="33.7" fill="#93d3f0" stroke="#262626" stroke-width="1.35"/>
<rect x="1664.4" y="702.54" width="28.3" height="33.7" fill="#6cd08a" stroke="#262626" stroke-width="1.35"/>
<rect x="1692.7" y="702.54" width="62.1" height="33.7" fill="#bdbcdd" stroke="#262626" stroke-width="1.35"/>
<text x="1630.78" y="727.59" font-size="25.7" fill="#000" text-anchor="end" font-style="italic">X.tropicalis</text>
<text font-size="25.9" fill="#000" x="1766.12" y="727.59">1.5 Gb</text>
<rect x="1642.5" y="744.81" width="9.5" height="33.7" fill="#f5ab6c" stroke="#262626" stroke-width="1.35"/>
<rect x="1652" y="744.81" width="4.3" height="33.7" fill="#93d3f0" stroke="#262626" stroke-width="1.35"/>
<rect x="1656.3" y="744.81" width="8.4" height="33.7" fill="#6cd08a" stroke="#262626" stroke-width="1.35"/>
<rect x="1664.7" y="744.81" width="37.3" height="33.7" fill="#bdbcdd" stroke="#262626" stroke-width="1.35"/>
<text x="1630.97" y="769.86" font-size="25.7" fill="#000" text-anchor="end" font-style="italic">S.multiplicata</text>
<text font-size="25.9" fill="#000" x="1710.22" y="769.86">1.1 Gb</text>
<line x1="1642.5" y1="189.82" x2="1642.5" y2="782.4" stroke="#000" stroke-width="1.7"/>
<line x1="1637.5" y1="190.62" x2="1647.5" y2="190.62" stroke="#000" stroke-width="1.6"/>
<line x1="1637.5" y1="232.89" x2="1647.5" y2="232.89" stroke="#000" stroke-width="1.6"/>
<line x1="1637.5" y1="275.16" x2="1647.5" y2="275.16" stroke="#000" stroke-width="1.6"/>
<line x1="1637.5" y1="317.43" x2="1647.5" y2="317.43" stroke="#000" stroke-width="1.6"/>
<line x1="1637.5" y1="359.7" x2="1647.5" y2="359.7" stroke="#000" stroke-width="1.6"/>
<line x1="1637.5" y1="401.97" x2="1647.5" y2="401.97" stroke="#000" stroke-width="1.6"/>
<line x1="1637.5" y1="444.24" x2="1647.5" y2="444.24" stroke="#000" stroke-width="1.6"/>
<line x1="1637.5" y1="486.51" x2="1647.5" y2="486.51" stroke="#000" stroke-width="1.6"/>
<line x1="1637.5" y1="528.78" x2="1647.5" y2="528.78" stroke="#000" stroke-width="1.6"/>
<line x1="1637.5" y1="571.05" x2="1647.5" y2="571.05" stroke="#000" stroke-width="1.6"/>
<line x1="1637.5" y1="613.32" x2="1647.5" y2="613.32" stroke="#000" stroke-width="1.6"/>
<line x1="1637.5" y1="655.59" x2="1647.5" y2="655.59" stroke="#000" stroke-width="1.6"/>
<line x1="1637.5" y1="697.86" x2="1647.5" y2="697.86" stroke="#000" stroke-width="1.6"/>
<line x1="1637.5" y1="740.13" x2="1647.5" y2="740.13" stroke="#000" stroke-width="1.6"/>
<line x1="1637.5" y1="782.4" x2="1647.5" y2="782.4" stroke="#000" stroke-width="1.6"/>
<line x1="1637.5" y1="782.4" x2="2380.5" y2="782.4" stroke="#000" stroke-width="1.7"/>
<line x1="1642.5" y1="782.4" x2="1642.5" y2="792.4" stroke="#000" stroke-width="1.6"/>
<text font-size="25.9" fill="#000" x="1636.02" y="819.6">0</text>
<line x1="1660.48" y1="782.4" x2="1660.48" y2="787.4" stroke="#000" stroke-width="1.5"/>
<line x1="1678.47" y1="782.4" x2="1678.47" y2="787.4" stroke="#000" stroke-width="1.5"/>
<line x1="1696.45" y1="782.4" x2="1696.45" y2="787.4" stroke="#000" stroke-width="1.5"/>
<line x1="1714.44" y1="782.4" x2="1714.44" y2="787.4" stroke="#000" stroke-width="1.5"/>
<line x1="1732.42" y1="782.4" x2="1732.42" y2="792.4" stroke="#000" stroke-width="1.6"/>
<text font-size="25.9" fill="#000" x="1712.74" y="819.6">500</text>
<line x1="1750.41" y1="782.4" x2="1750.41" y2="787.4" stroke="#000" stroke-width="1.5"/>
<line x1="1768.39" y1="782.4" x2="1768.39" y2="787.4" stroke="#000" stroke-width="1.5"/>
<line x1="1786.38" y1="782.4" x2="1786.38" y2="787.4" stroke="#000" stroke-width="1.5"/>
<line x1="1804.37" y1="782.4" x2="1804.37" y2="787.4" stroke="#000" stroke-width="1.5"/>
<line x1="1822.35" y1="782.4" x2="1822.35" y2="792.4" stroke="#000" stroke-width="1.6"/>
<text font-size="25.9" fill="#000" x="1795.81" y="819.6">1000</text>
<line x1="1840.34" y1="782.4" x2="1840.34" y2="787.4" stroke="#000" stroke-width="1.5"/>
<line x1="1858.32" y1="782.4" x2="1858.32" y2="787.4" stroke="#000" stroke-width="1.5"/>
<line x1="1876.31" y1="782.4" x2="1876.31" y2="787.4" stroke="#000" stroke-width="1.5"/>
<line x1="1894.29" y1="782.4" x2="1894.29" y2="787.4" stroke="#000" stroke-width="1.5"/>
<line x1="1912.28" y1="782.4" x2="1912.28" y2="792.4" stroke="#000" stroke-width="1.6"/>
<text font-size="25.9" fill="#000" x="1885.73" y="819.6">1500</text>
<line x1="1930.26" y1="782.4" x2="1930.26" y2="787.4" stroke="#000" stroke-width="1.5"/>
<line x1="1948.24" y1="782.4" x2="1948.24" y2="787.4" stroke="#000" stroke-width="1.5"/>
<line x1="1966.23" y1="782.4" x2="1966.23" y2="787.4" stroke="#000" stroke-width="1.5"/>
<line x1="1984.22" y1="782.4" x2="1984.22" y2="787.4" stroke="#000" stroke-width="1.5"/>
<line x1="2002.2" y1="782.4" x2="2002.2" y2="792.4" stroke="#000" stroke-width="1.6"/>
<text font-size="25.9" fill="#000" x="1976.22" y="819.6">2000</text>
<line x1="2020.18" y1="782.4" x2="2020.18" y2="787.4" stroke="#000" stroke-width="1.5"/>
<line x1="2038.17" y1="782.4" x2="2038.17" y2="787.4" stroke="#000" stroke-width="1.5"/>
<line x1="2056.16" y1="782.4" x2="2056.16" y2="787.4" stroke="#000" stroke-width="1.5"/>
<line x1="2074.14" y1="782.4" x2="2074.14" y2="787.4" stroke="#000" stroke-width="1.5"/>
<line x1="2092.12" y1="782.4" x2="2092.12" y2="792.4" stroke="#000" stroke-width="1.6"/>
<text font-size="25.9" fill="#000" x="2066.15" y="819.6">2500</text>
<line x1="2110.11" y1="782.4" x2="2110.11" y2="787.4" stroke="#000" stroke-width="1.5"/>
<line x1="2128.1" y1="782.4" x2="2128.1" y2="787.4" stroke="#000" stroke-width="1.5"/>
<line x1="2146.08" y1="782.4" x2="2146.08" y2="787.4" stroke="#000" stroke-width="1.5"/>
<line x1="2164.07" y1="782.4" x2="2164.07" y2="787.4" stroke="#000" stroke-width="1.5"/>
<line x1="2182.05" y1="782.4" x2="2182.05" y2="792.4" stroke="#000" stroke-width="1.6"/>
<text font-size="25.9" fill="#000" x="2156.02" y="819.6">3000</text>
<line x1="2200.03" y1="782.4" x2="2200.03" y2="787.4" stroke="#000" stroke-width="1.5"/>
<line x1="2218.02" y1="782.4" x2="2218.02" y2="787.4" stroke="#000" stroke-width="1.5"/>
<line x1="2236.01" y1="782.4" x2="2236.01" y2="787.4" stroke="#000" stroke-width="1.5"/>
<line x1="2253.99" y1="782.4" x2="2253.99" y2="787.4" stroke="#000" stroke-width="1.5"/>
<line x1="2271.97" y1="782.4" x2="2271.97" y2="792.4" stroke="#000" stroke-width="1.6"/>
<text font-size="25.9" fill="#000" x="2245.95" y="819.6">3500</text>
<line x1="2289.96" y1="782.4" x2="2289.96" y2="787.4" stroke="#000" stroke-width="1.5"/>
<line x1="2307.95" y1="782.4" x2="2307.95" y2="787.4" stroke="#000" stroke-width="1.5"/>
<line x1="2325.93" y1="782.4" x2="2325.93" y2="787.4" stroke="#000" stroke-width="1.5"/>
<line x1="2343.91" y1="782.4" x2="2343.91" y2="787.4" stroke="#000" stroke-width="1.5"/>
<line x1="2361.9" y1="782.4" x2="2361.9" y2="792.4" stroke="#000" stroke-width="1.6"/>
<text font-size="25.9" fill="#000" x="2336.24" y="819.6">4000</text>
<line x1="2379.89" y1="782.4" x2="2379.89" y2="787.4" stroke="#000" stroke-width="1.5"/>
<text font-size="26" fill="#000" textLength="105.4" lengthAdjust="spacingAndGlyphs" x="1958.25" y="864">Size (Mb)</text>
<rect x="2335.4" y="408.2" width="58.7" height="28.4" rx="1.5" fill="#bdbcdd" stroke="#262626" stroke-width="1.35"/>
<text font-size="26.3" fill="#000" textLength="131.47" lengthAdjust="spacingAndGlyphs" x="2402.25" y="431.3">Unclassified</text>
<rect x="2335.4" y="441.4" width="58.7" height="28.4" rx="1.5" fill="#6cd08a" stroke="#262626" stroke-width="1.35"/>
<text font-size="26.3" fill="#000" textLength="188.92" lengthAdjust="spacingAndGlyphs" x="2402.04" y="464.6">DNA transposons</text>
<rect x="2335.4" y="474.6" width="58.7" height="28.4" rx="1.5" fill="#93d3f0" stroke="#262626" stroke-width="1.35"/>
<text font-size="26.3" fill="#000" textLength="60.42" lengthAdjust="spacingAndGlyphs" x="2402.04" y="497.5">LTRs</text>
<rect x="2335.4" y="507.8" width="58.7" height="28.4" rx="1.5" fill="#f5ab6c" stroke="#262626" stroke-width="1.35"/>
<text font-size="26.3" fill="#000" textLength="70.52" lengthAdjust="spacingAndGlyphs" x="2402.04" y="530.6">LINEs</text>
<rect x="2335.4" y="541" width="58.7" height="28.4" rx="1.5" fill="#ecaac9" stroke="#262626" stroke-width="1.35"/>
<text font-size="26.3" fill="#000" textLength="69.96" lengthAdjust="spacingAndGlyphs" x="2401.01" y="564">SINEs</text>
</g>
<text font-size="45" fill="#000" textLength="30.73" lengthAdjust="spacingAndGlyphs" x="455.58" y="105.9">A</text>
<text font-size="43.5" fill="#000" textLength="29.88" lengthAdjust="spacingAndGlyphs" x="1430.71" y="112.5">B</text>
<text font-size="44.5" fill="#000" textLength="30.5" lengthAdjust="spacingAndGlyphs" x="454.12" y="900.4">C</text>
<text font-size="44" fill="#000" textLength="31.17" lengthAdjust="spacingAndGlyphs" x="1426.76" y="908.2">D</text>
</svg>
</body>
</html>
